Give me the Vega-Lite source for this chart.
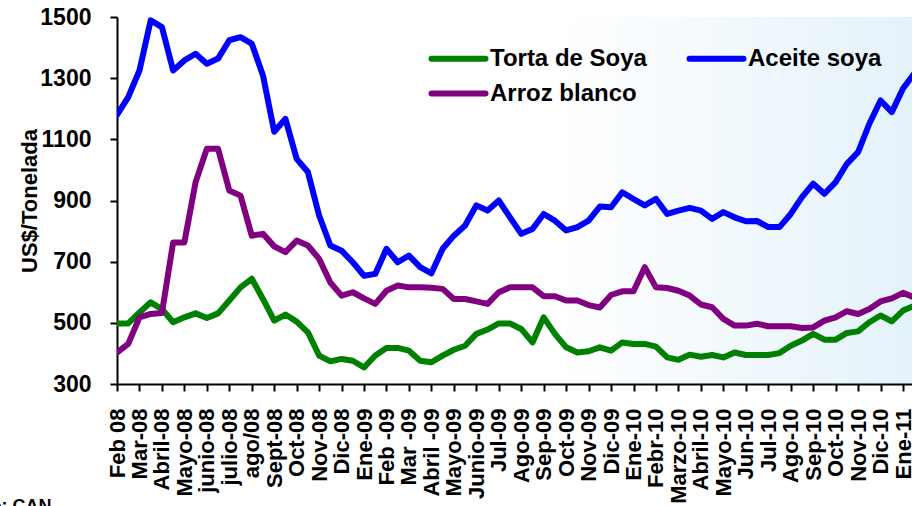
{
  "$schema": "https://vega.github.io/schema/vega-lite/v6.json",
  "width": 795,
  "height": 367,
  "autosize": {"type": "none"},
  "padding": {"left": 117, "top": 17, "right": 0, "bottom": 122},
  "background": "#ffffff",
  "config": {
    "font": "Liberation Sans",
    "view": {"stroke": null, "fill": {"gradient": "linear", "x1": 0, "x2": 1, "y1": 0, "y2": 0, "stops": [{"offset": 0, "color": "#ffffff"}, {"offset": 0.55, "color": "#ffffff"}, {"offset": 1, "color": "#e4f2fa"}]}}
  },
  "data": {
    "values": [
      {"i": 0, "Torta de Soya": 498, "Aceite soya": 1180, "Arroz blanco": 403},
      {"i": 1, "Torta de Soya": 498, "Aceite soya": 1238, "Arroz blanco": 431},
      {"i": 2, "Torta de Soya": 534, "Aceite soya": 1325, "Arroz blanco": 518},
      {"i": 3, "Torta de Soya": 567, "Aceite soya": 1489, "Arroz blanco": 529},
      {"i": 4, "Torta de Soya": 545, "Aceite soya": 1467, "Arroz blanco": 532},
      {"i": 5, "Torta de Soya": 502, "Aceite soya": 1325, "Arroz blanco": 763},
      {"i": 6, "Torta de Soya": 518, "Aceite soya": 1358, "Arroz blanco": 763},
      {"i": 7, "Torta de Soya": 531, "Aceite soya": 1380, "Arroz blanco": 960},
      {"i": 8, "Torta de Soya": 516, "Aceite soya": 1347, "Arroz blanco": 1069},
      {"i": 9, "Torta de Soya": 531, "Aceite soya": 1364, "Arroz blanco": 1069},
      {"i": 10, "Torta de Soya": 573, "Aceite soya": 1424, "Arroz blanco": 933},
      {"i": 11, "Torta de Soya": 616, "Aceite soya": 1434, "Arroz blanco": 916},
      {"i": 12, "Torta de Soya": 644, "Aceite soya": 1413, "Arroz blanco": 785},
      {"i": 13, "Torta de Soya": 578, "Aceite soya": 1309, "Arroz blanco": 791},
      {"i": 14, "Torta de Soya": 507, "Aceite soya": 1125, "Arroz blanco": 750},
      {"i": 15, "Torta de Soya": 527, "Aceite soya": 1167, "Arroz blanco": 731},
      {"i": 16, "Torta de Soya": 504, "Aceite soya": 1036, "Arroz blanco": 769},
      {"i": 17, "Torta de Soya": 469, "Aceite soya": 993, "Arroz blanco": 753},
      {"i": 18, "Torta de Soya": 393, "Aceite soya": 851, "Arroz blanco": 709},
      {"i": 19, "Torta de Soya": 374, "Aceite soya": 753, "Arroz blanco": 632},
      {"i": 20, "Torta de Soya": 382, "Aceite soya": 736, "Arroz blanco": 589},
      {"i": 21, "Torta de Soya": 376, "Aceite soya": 698, "Arroz blanco": 600},
      {"i": 22, "Torta de Soya": 354, "Aceite soya": 654, "Arroz blanco": 580},
      {"i": 23, "Torta de Soya": 393, "Aceite soya": 660, "Arroz blanco": 562},
      {"i": 24, "Torta de Soya": 418, "Aceite soya": 742, "Arroz blanco": 605},
      {"i": 25, "Torta de Soya": 418, "Aceite soya": 698, "Arroz blanco": 622},
      {"i": 26, "Torta de Soya": 409, "Aceite soya": 720, "Arroz blanco": 616},
      {"i": 27, "Torta de Soya": 376, "Aceite soya": 682, "Arroz blanco": 616},
      {"i": 28, "Torta de Soya": 371, "Aceite soya": 662, "Arroz blanco": 615},
      {"i": 29, "Torta de Soya": 393, "Aceite soya": 742, "Arroz blanco": 611},
      {"i": 30, "Torta de Soya": 412, "Aceite soya": 785, "Arroz blanco": 578},
      {"i": 31, "Torta de Soya": 425, "Aceite soya": 818, "Arroz blanco": 578},
      {"i": 32, "Torta de Soya": 464, "Aceite soya": 884, "Arroz blanco": 570},
      {"i": 33, "Torta de Soya": 478, "Aceite soya": 867, "Arroz blanco": 562},
      {"i": 34, "Torta de Soya": 498, "Aceite soya": 900, "Arroz blanco": 600},
      {"i": 35, "Torta de Soya": 498, "Aceite soya": 845, "Arroz blanco": 616},
      {"i": 36, "Torta de Soya": 480, "Aceite soya": 791, "Arroz blanco": 616},
      {"i": 37, "Torta de Soya": 436, "Aceite soya": 807, "Arroz blanco": 616},
      {"i": 38, "Torta de Soya": 518, "Aceite soya": 856, "Arroz blanco": 587},
      {"i": 39, "Torta de Soya": 464, "Aceite soya": 834, "Arroz blanco": 587},
      {"i": 40, "Torta de Soya": 420, "Aceite soya": 802, "Arroz blanco": 573},
      {"i": 41, "Torta de Soya": 403, "Aceite soya": 813, "Arroz blanco": 573},
      {"i": 42, "Torta de Soya": 407, "Aceite soya": 834, "Arroz blanco": 558},
      {"i": 43, "Torta de Soya": 420, "Aceite soya": 880, "Arroz blanco": 550},
      {"i": 44, "Torta de Soya": 409, "Aceite soya": 878, "Arroz blanco": 591},
      {"i": 45, "Torta de Soya": 436, "Aceite soya": 927, "Arroz blanco": 603},
      {"i": 46, "Torta de Soya": 431, "Aceite soya": 905, "Arroz blanco": 603},
      {"i": 47, "Torta de Soya": 431, "Aceite soya": 884, "Arroz blanco": 682},
      {"i": 48, "Torta de Soya": 422, "Aceite soya": 905, "Arroz blanco": 616},
      {"i": 49, "Torta de Soya": 387, "Aceite soya": 856, "Arroz blanco": 614},
      {"i": 50, "Torta de Soya": 379, "Aceite soya": 867, "Arroz blanco": 605},
      {"i": 51, "Torta de Soya": 396, "Aceite soya": 876, "Arroz blanco": 589},
      {"i": 52, "Torta de Soya": 389, "Aceite soya": 867, "Arroz blanco": 560},
      {"i": 53, "Torta de Soya": 395, "Aceite soya": 840, "Arroz blanco": 551},
      {"i": 54, "Torta de Soya": 387, "Aceite soya": 862, "Arroz blanco": 513},
      {"i": 55, "Torta de Soya": 403, "Aceite soya": 845, "Arroz blanco": 491},
      {"i": 56, "Torta de Soya": 395, "Aceite soya": 832, "Arroz blanco": 491},
      {"i": 57, "Torta de Soya": 395, "Aceite soya": 833, "Arroz blanco": 497},
      {"i": 58, "Torta de Soya": 395, "Aceite soya": 813, "Arroz blanco": 489},
      {"i": 59, "Torta de Soya": 401, "Aceite soya": 813, "Arroz blanco": 489},
      {"i": 60, "Torta de Soya": 425, "Aceite soya": 856, "Arroz blanco": 489},
      {"i": 61, "Torta de Soya": 442, "Aceite soya": 911, "Arroz blanco": 483},
      {"i": 62, "Torta de Soya": 464, "Aceite soya": 955, "Arroz blanco": 485},
      {"i": 63, "Torta de Soya": 445, "Aceite soya": 922, "Arroz blanco": 507},
      {"i": 64, "Torta de Soya": 445, "Aceite soya": 960, "Arroz blanco": 518},
      {"i": 65, "Torta de Soya": 467, "Aceite soya": 1020, "Arroz blanco": 538},
      {"i": 66, "Torta de Soya": 472, "Aceite soya": 1058, "Arroz blanco": 529},
      {"i": 67, "Torta de Soya": 502, "Aceite soya": 1151, "Arroz blanco": 545},
      {"i": 68, "Torta de Soya": 524, "Aceite soya": 1227, "Arroz blanco": 570},
      {"i": 69, "Torta de Soya": 505, "Aceite soya": 1189, "Arroz blanco": 580},
      {"i": 70, "Torta de Soya": 540, "Aceite soya": 1266, "Arroz blanco": 598},
      {"i": 71, "Torta de Soya": 556, "Aceite soya": 1315, "Arroz blanco": 583}
    ]
  },
  "transform": [
    {"fold": ["Torta de Soya", "Aceite soya", "Arroz blanco"], "as": ["serie", "v"]}
  ],
  "mark": {"type": "line", "strokeWidth": 6, "strokeJoin": "round", "strokeCap": "round", "clip": true},
  "encoding": {
    "x": {
      "field": "i",
      "type": "quantitative",
      "scale": {"domain": [0, 70.8], "nice": false, "zero": false},
      "axis": {
        "values": [0, 2, 4, 6, 8, 10, 12, 14, 16, 18, 20, 22, 24, 26, 28, 30, 32, 34, 36, 38, 40, 42, 44, 46, 48, 50, 52, 54, 56, 58, 60, 62, 64, 66, 68, 70],
        "labelExpr": "['Feb 08','Mar-08','Abril-08','Mayo-08','junio-08','julio-08','ago/08','Sept-08','Oct-08','Nov-08','Dic-08','Ene-09','Feb -09','Mar -09','Abril -09','Mayo-09','Junio-09','Jul-09','Ago-09','Sep-09','Oct-09','Nov-09','Dic-09','Ene-10','Febr-10','Marzo-10','Abril-10','Mayo-10','Jun-10','Jul-10','Ago-10','Sep-10','Oct-10','Nov-10','Dic-10','Ene-11'][round(datum.value/2)]",
        "labelAngle": -90,
        "labelAlign": "right",
        "labelBaseline": "middle",
        "labelOverlap": false,
        "labelBound": false,
        "labelFlush": false,
        "labelPadding": 17,
        "labelFontSize": 22,
        "labelFontWeight": "bold",
        "labelColor": "#000000",
        "tickSize": 7,
        "tickWidth": 2,
        "tickColor": "#000000",
        "domainColor": "#000000",
        "domainWidth": 2,
        "grid": false,
        "title": "Fuente: CAN",
        "titleFontSize": 18,
        "titleFontWeight": "bold",
        "titleColor": "#000000",
        "titleAlign": "left",
        "titleAnchor": "start",
        "titleBaseline": "alphabetic",
        "titleX": -175,
        "titleY": 127
      }
    },
    "y": {
      "field": "v",
      "type": "quantitative",
      "scale": {"domain": [300, 1500], "nice": false, "zero": false},
      "axis": {
        "values": [300, 500, 700, 900, 1100, 1300, 1500],
        "format": "d",
        "labelFontSize": 23,
        "labelFontWeight": "bold",
        "labelColor": "#000000",
        "labelPadding": 19,
        "labelOverlap": false,
        "labelBound": false,
        "labelFlush": false,
        "tickSize": 7,
        "tickWidth": 2,
        "tickColor": "#000000",
        "domainColor": "#000000",
        "domainWidth": 2,
        "grid": false,
        "title": "US$/Tonelada",
        "titleFontSize": 22,
        "titleFontWeight": "bold",
        "titleColor": "#000000",
        "titlePadding": -2
      }
    },
    "color": {
      "field": "serie",
      "type": "nominal",
      "sort": ["Torta de Soya", "Arroz blanco", "Aceite soya"],
      "scale": {"domain": ["Torta de Soya", "Arroz blanco", "Aceite soya"], "range": ["#008000", "#800080", "#0000ff"]},
      "legend": {
        "orient": "none",
        "legendX": 325,
        "legendY": 25,
        "columns": 2,
        "title": null,
        "padding": 0,
        "symbolType": "M-2,0L2,0",
        "symbolSize": 729,
        "symbolStrokeWidth": 6,
        "labelFontSize": 24,
        "labelFontWeight": "bold",
        "labelColor": "#000000",
        "labelLimit": 400,
        "labelOffset": 15,
        "columnPadding": 30,
        "rowPadding": 6,
        "encode": {"symbols": {"update": {"strokeCap": {"value": "round"}}}}
      }
    }
  }
}
